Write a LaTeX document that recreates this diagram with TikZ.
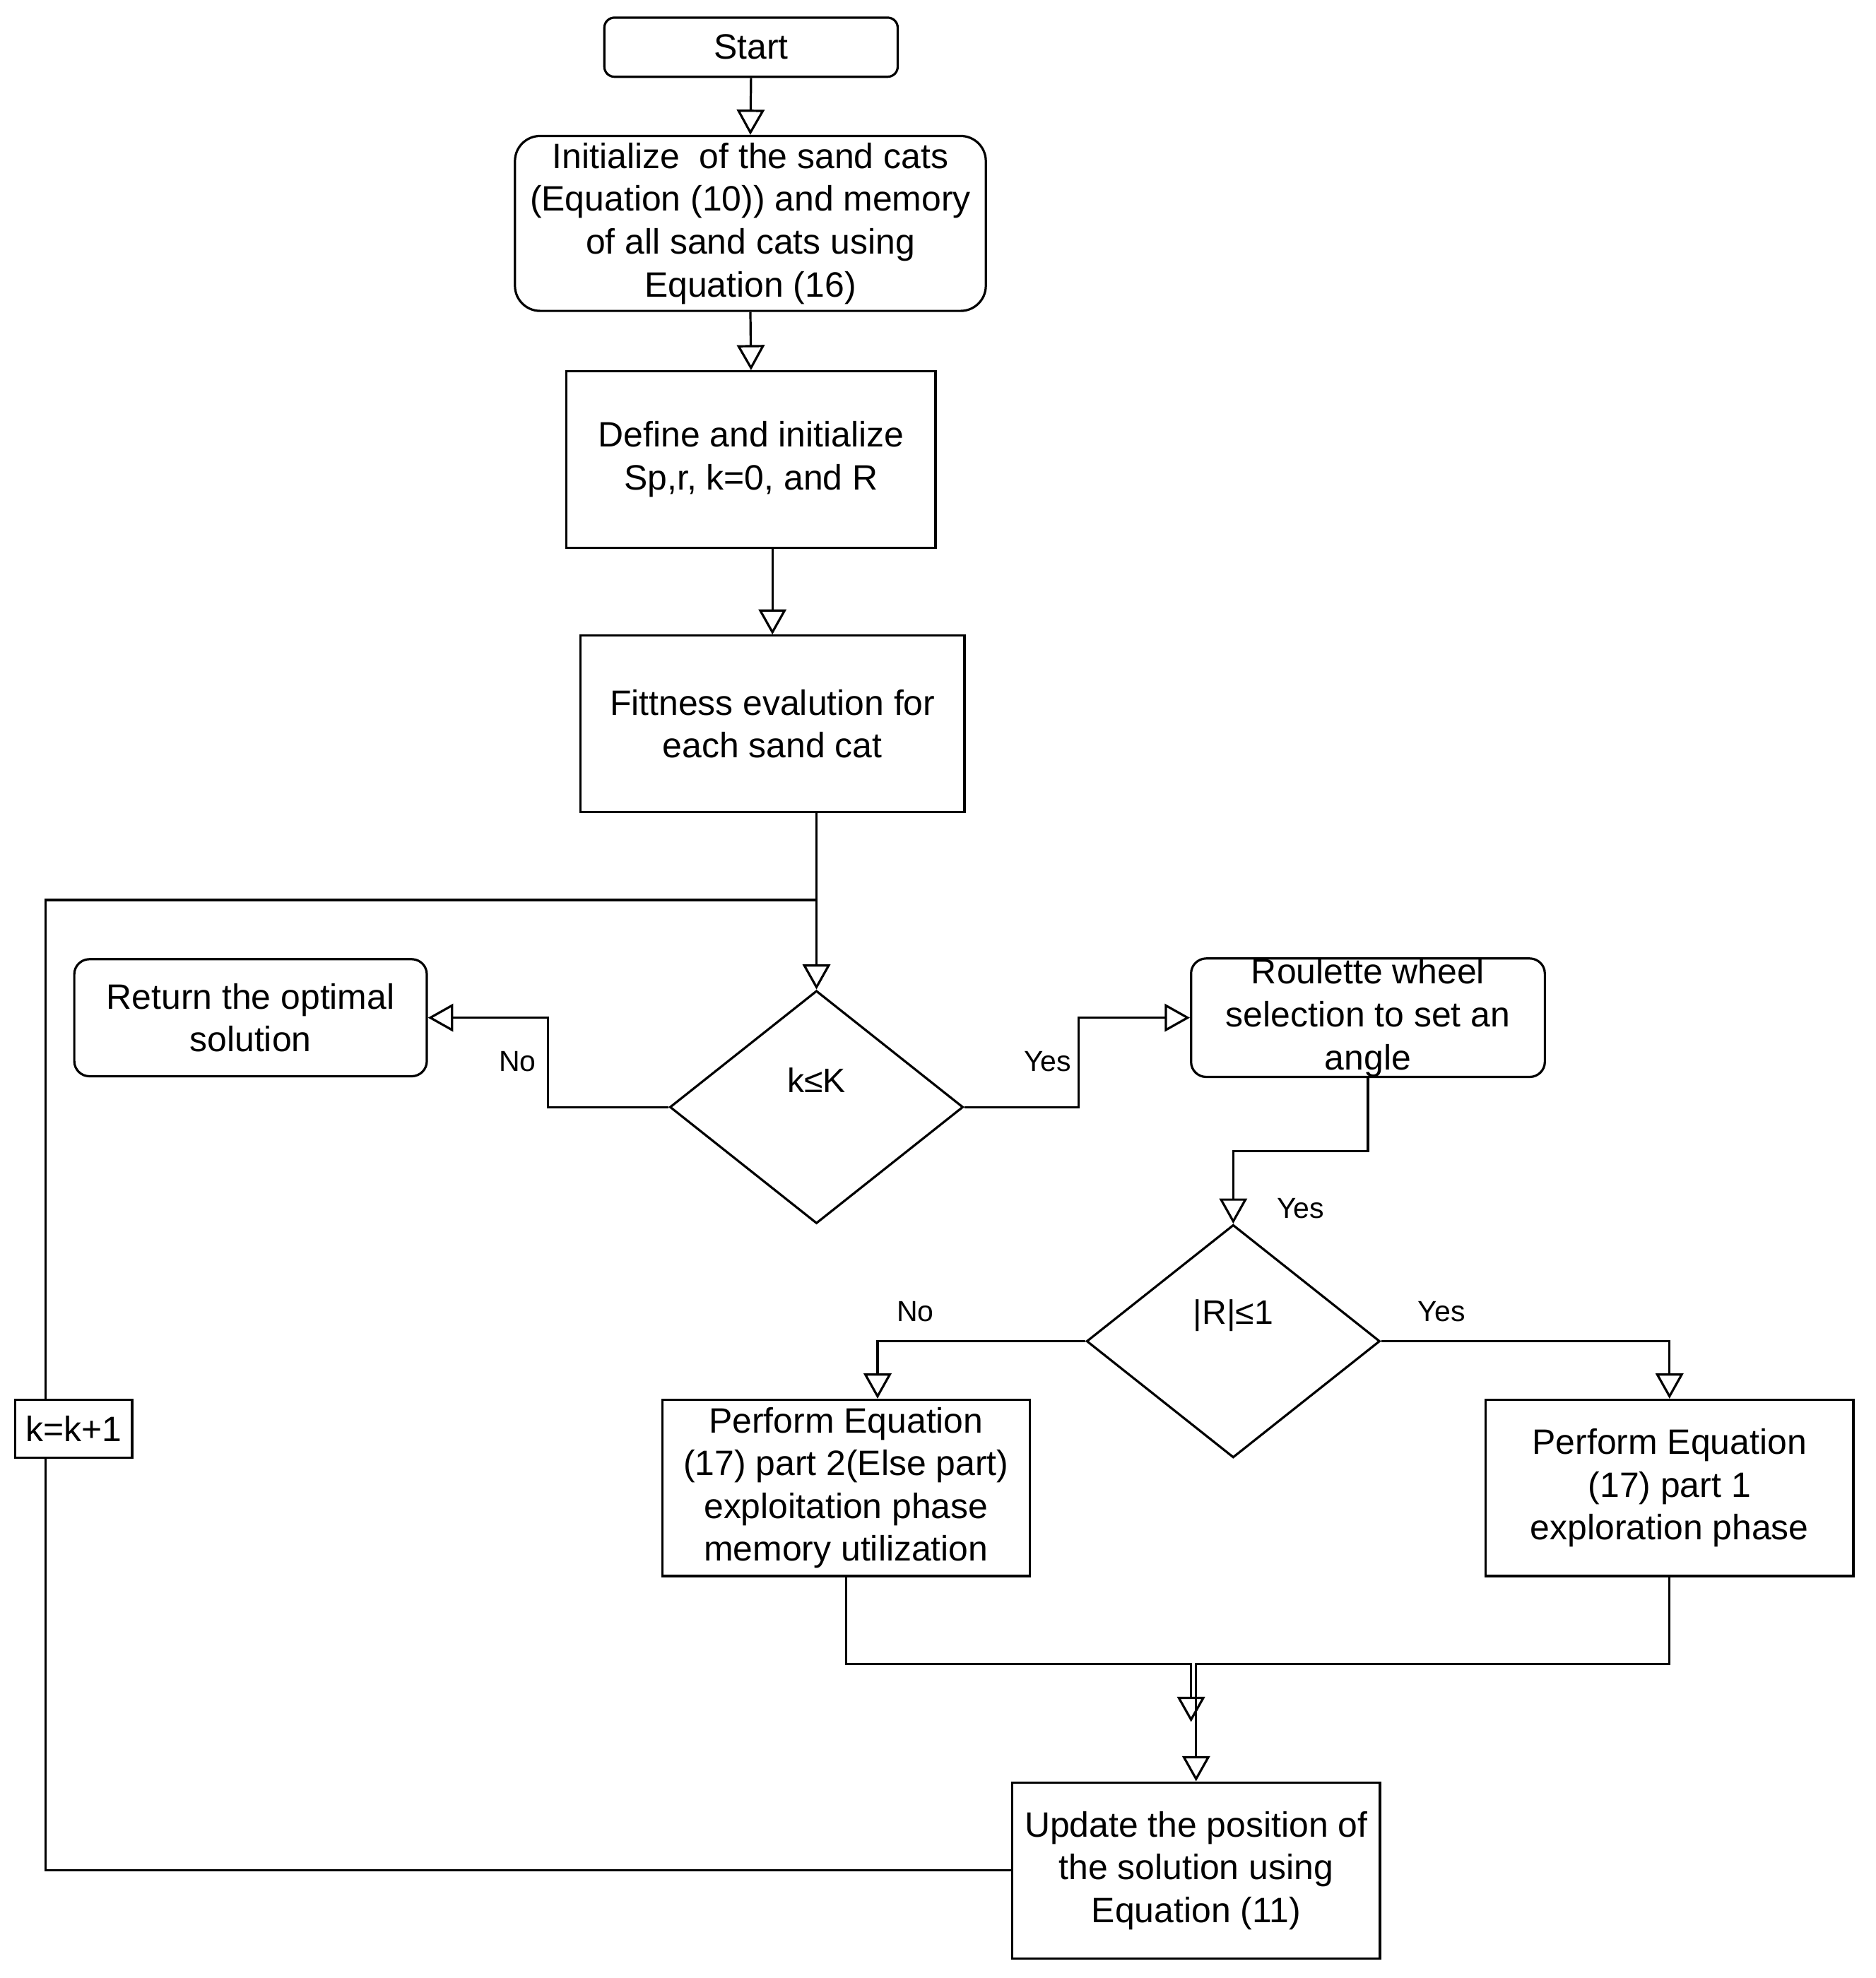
\documentclass[tikz,border=0pt]{standalone}
\usepackage{fontspec}
\setmainfont{Liberation Sans}
\usetikzlibrary{arrows.meta,shapes.geometric}
\begin{document}
\begin{tikzpicture}[x=1pt,y=-1pt,
  every node/.style={font=\fontsize{28}{34}\selectfont, inner sep=0pt, align=center, text=black},
  box/.style={draw, line width=1.8pt, fill=white},
  rbox/.style={box, rounded corners=12pt},
  dec/.style={diamond, draw, line width=1.8pt, minimum width=233pt, minimum height=185pt, inner sep=0pt},
  conn/.style={line width=1.8pt},
  arr/.style={conn, -{Triangle[length=20pt,width=22pt,fill=white,line width=1.8pt]}},
  lab/.style={font=\fontsize{23}{28}\selectfont},
  dtext/.style={font=\fontsize{27}{32}\selectfont}]
\useasboundingbox (0,0) rectangle (1490,1571.4);

% nodes
\node[rbox, rounded corners=8pt, minimum width=233pt, minimum height=47pt] (start) at (596.5,37.5) {Start};
\node[rbox, rounded corners=20pt, minimum width=374pt, minimum height=139pt] (init) at (596,177.5)
  {Initialize\ \ of the sand cats\\(Equation (10)) and memory\\of all sand cats using\\Equation (16)};
\node[box, minimum width=293pt, minimum height=140pt] (def) at (596.5,365) {Define and initialize\\Sp,r, k=0, and R};
\node[box, minimum width=305pt, minimum height=140pt] (fit) at (613.5,575) {Fittness evalution for\\each sand cat};
\node[dec] (d1) at (648.5,879.5) {};
\node[dtext] (t1) at (648.5,858) {k≤K};
\node[rbox, minimum width=280pt, minimum height=93pt] (ret) at (199,808.5) {Return the optimal\\solution};
\node[rbox, minimum width=281pt, minimum height=93pt] (rou) at (1086.5,808.5) {Roulette wheel\\selection to set an\\angle};
\node[dec] (d2) at (979.5,1065.5) {};
\node[dtext] (t2) at (979.5,1045) {|R|≤1};
\node[box, minimum width=292pt, minimum height=140pt] (p2) at (672,1182)
  {Perform Equation\\(17) part 2(Else part)\\exploitation phase\\memory utilization};
\node[box, minimum width=292pt, minimum height=140pt] (p1) at (1326,1182)
  {Perform Equation\\(17) part 1\\exploration phase};
\node[box, minimum width=292pt, minimum height=140pt] (upd) at (950,1486)
  {Update the position of\\the solution using\\Equation (11)};
\node[box, minimum width=93pt, minimum height=46pt] (kk) at (58.5,1135) {k=k+1};

% labels
\node[lab] (lno1) at (411,843) {No};
\node[lab] (lyes1) at (832,843) {Yes};
\node[lab] (lyes2) at (1033,960) {Yes};
\node[lab] (lno2) at (727,1042) {No};
\node[lab] (lyes3) at (1145,1042) {Yes};

% helper coordinates
\coordinate (lt) at (36,715);
\coordinate (lj) at (648.5,715);
\coordinate (m1) at (946,1322);
\coordinate (m1e) at (946,1368);
\coordinate (m2) at (950,1322);

% connectors
\draw[arr] (start.south) -- (init.north);
\draw[arr] (init.south) -- (def.north);
\draw[arr] (def.south -| fit.north) -- (fit.north);
\draw[arr] (fit.south -| d1.north) -- (d1.north);
\draw[conn] (upd.west) -| (kk.south -| lt);
\draw[conn] (kk.north -| lt) -- (lt) -- (lj);
\draw[arr] (d1.west) -- ++(-96,0) |- (ret.east);
\draw[arr] (d1.east) -- ++(91,0) |- (rou.west);
\draw[arr] (rou.south) -- ++(0,58) -| (d2.north);
\draw[arr] (d2.west) -| ([xshift=25pt]p2.north);
\draw[arr] (d2.east) -| (p1.north);
\draw[arr] (p2.south) |- (m1) -- (m1e);
\draw[arr] (p1.south) |- (m2) -- (upd.north);
\end{tikzpicture}
\end{document}
